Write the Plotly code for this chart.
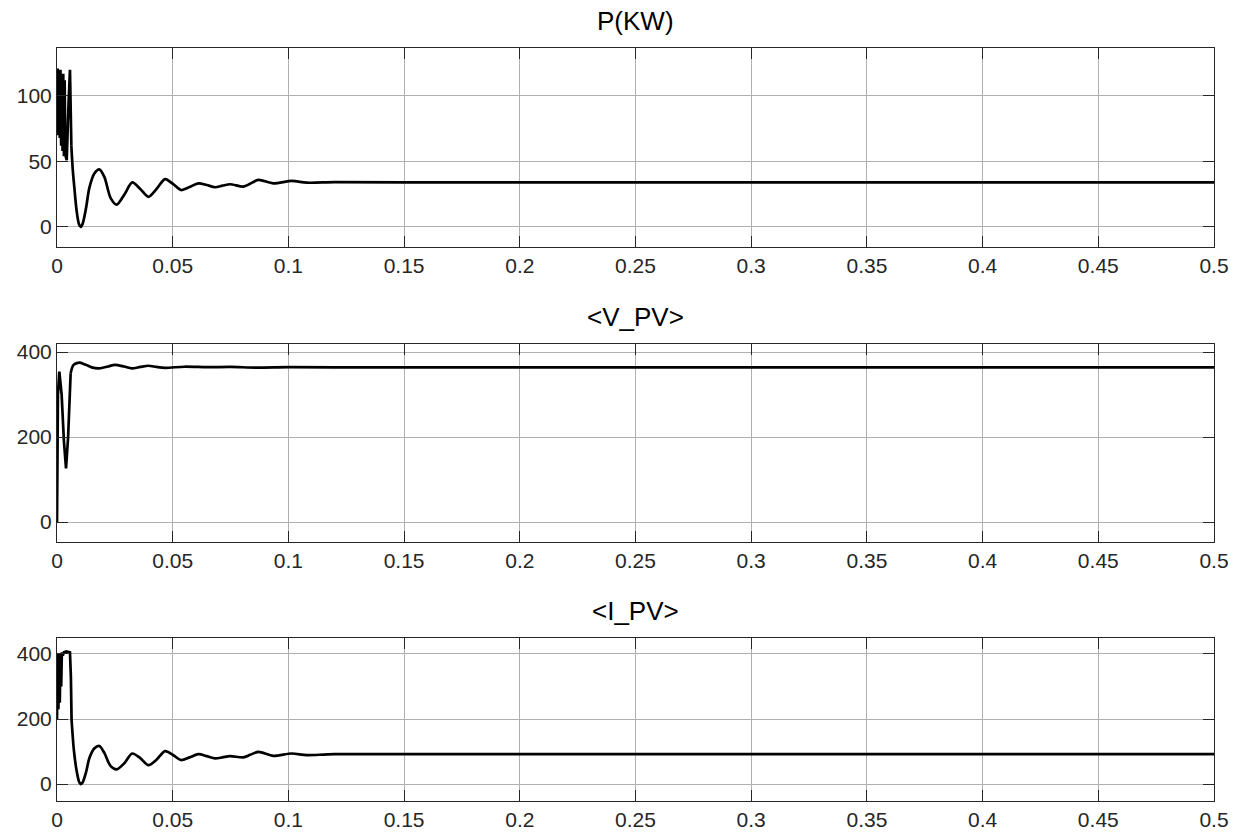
import plotly.graph_objects as go
from plotly.subplots import make_subplots

# ---------------- data ----------------
titles = ["P(KW)", "<V_PV>", "<I_PV>"]
x_ticks = [0, 0.05, 0.1, 0.15, 0.2, 0.25, 0.3, 0.35, 0.4, 0.45, 0.5]
x_tick_labels = ["0", "0.05", "0.1", "0.15", "0.2", "0.25", "0.3", "0.35", "0.4", "0.45", "0.5"]

t_p = [0, 0.0003, 0.0006, 0.0009, 0.0012, 0.0015, 0.0018, 0.0021, 0.0024, 0.0027,
       0.003, 0.0033, 0.0036, 0.0042, 0.0050, 0.0056, 0.0062,
       0.0068, 0.0075, 0.0085, 0.0095, 0.0102, 0.011, 0.0125, 0.014, 0.0162, 0.0183,
       0.0205, 0.0232, 0.0258, 0.0292, 0.0325, 0.036, 0.0395, 0.043, 0.0467, 0.050,
       0.0536, 0.0573, 0.0611, 0.0647, 0.0683, 0.0715, 0.0748, 0.0805, 0.0835, 0.087,
       0.0935, 0.1014, 0.108, 0.12, 0.15, 0.5]
p_kw = [70, 121, 75, 118, 68, 120, 62, 116, 58, 117,
        54, 112, 55, 51, 95, 120, 62,
        44, 30, 12, 2, 0, 2, 14, 30, 41, 44,
        38, 22, 17, 25, 34, 29, 23, 29, 36.5, 33,
        28.2, 30.5, 33.3, 32, 30.3, 31.5, 32.6, 30.8, 33, 35.9,
        33.3, 35.1, 33.8, 34.2, 34, 34]
p_split = 16

t_v = [0, 0.0004, 0.001, 0.002, 0.003, 0.0039, 0.0048, 0.0059,
       0.007, 0.0085, 0.0099, 0.0125, 0.015, 0.0183, 0.022, 0.025, 0.029, 0.0323,
       0.036, 0.0395, 0.043, 0.0467, 0.055, 0.065, 0.075, 0.086, 0.1, 0.12, 0.5]
v_pv = [0, 300, 354, 300, 190, 126, 200, 350,
        369, 374, 375, 370, 364, 361.6, 366, 370, 366, 361.6,
        365, 367.8, 365, 363, 365.5, 364.5, 365, 363.5, 364.5, 364, 364]
v_split = 7

t_i = [0, 0.0003, 0.0006, 0.0009, 0.0012, 0.0015, 0.0018, 0.0021, 0.0025, 0.003,
       0.004, 0.005, 0.0056, 0.006, 0.0063,
       0.0073, 0.0085, 0.0095, 0.0102, 0.011, 0.0125, 0.014, 0.0162, 0.0183,
       0.0205, 0.0232, 0.0258, 0.0292, 0.0325, 0.036, 0.0395, 0.043, 0.0467, 0.050,
       0.0536, 0.0573, 0.0611, 0.0647, 0.0683, 0.0715, 0.0748, 0.0805, 0.0835, 0.087,
       0.0935, 0.1014, 0.108, 0.12, 0.5]
i_pv = [200, 400, 230, 395, 250, 400, 300, 405, 395, 405,
        408, 406, 405, 330, 197,
        104, 40, 8, 0, 4, 35, 80, 110, 117,
        95, 55, 45, 65, 94, 80, 58, 75, 101.5, 90,
        74, 82, 92, 86, 79, 82, 86, 82, 90, 99,
        87, 94, 89, 92, 92]
i_split = 14

y_ranges = [[-15.3, 136.6], [-47, 419], [-52, 449]]
y_ticks = [[0, 50, 100], [0, 200, 400], [0, 200, 400]]

# ---------------- figure ----------------
W, H = 1234, 834
ml, mr, mt, mb = 57, W - 1214, 48, H - 801
ph = H - mt - mb

def frac(ypix):
    return (H - mb - ypix) / ph

domains = [[frac(247), frac(48)], [frac(542), frac(344)], [frac(801), frac(638)]]

fig = make_subplots(rows=3, cols=1)

series = [(t_p, p_kw, p_split), (t_v, v_pv, v_split), (t_i, i_pv, i_split)]
line = dict(color="black", width=2.7)
for k, (tt, yy, s) in enumerate(series):
    fig.add_trace(go.Scatter(x=tt[:s + 1], y=yy[:s + 1], mode="lines",
                             line=dict(line, shape="linear"), showlegend=False),
                  row=k + 1, col=1)
    fig.add_trace(go.Scatter(x=tt[s:], y=yy[s:], mode="lines",
                             line=dict(line, shape="spline", smoothing=0.8),
                             showlegend=False),
                  row=k + 1, col=1)

font = dict(family="Liberation Sans, Arial, sans-serif", size=21, color="#262626")

for k in range(3):
    xa = "xaxis" if k == 0 else f"xaxis{k + 1}"
    ya = "yaxis" if k == 0 else f"yaxis{k + 1}"
    fig.layout[xa].update(
        range=[0, 0.5], tickvals=x_ticks, ticktext=x_tick_labels,
        showline=True, linecolor="#262626", linewidth=1, mirror="ticks",
        ticks="inside", ticklen=11, tickcolor="#262626",
        showgrid=True, gridcolor="#b0b0b0", gridwidth=1, zeroline=False,
        tickfont=font, domain=[0, 1], automargin=False,
        ticklabeloverflow="allow", ticklabelstandoff=0)
    fig.layout[ya].update(
        range=y_ranges[k], tickvals=y_ticks[k],
        showline=True, linecolor="#262626", linewidth=1, mirror="ticks",
        ticks="inside", ticklen=11, tickcolor="#262626",
        showgrid=True, gridcolor="#b0b0b0", gridwidth=1, zeroline=False,
        tickfont=font, domain=domains[k], automargin=False,
        ticklabeloverflow="allow")
    fig.add_annotation(text=titles[k], xref="paper", yref="paper",
                       x=0.5, y=domains[k][1], yanchor="bottom", yshift=10,
                       showarrow=False,
                       font=dict(family="Liberation Sans, Arial, sans-serif",
                                 size=26, color="black"))

fig.update_layout(width=W, height=H, margin=dict(l=ml, r=mr, t=mt, b=mb),
                  plot_bgcolor="white", paper_bgcolor="white")

fig.write_html("out.html",
               config={"displayModeBar": False},
               post_script="document.body.style.margin='0';"
                           "document.body.style.overflow='hidden';")
